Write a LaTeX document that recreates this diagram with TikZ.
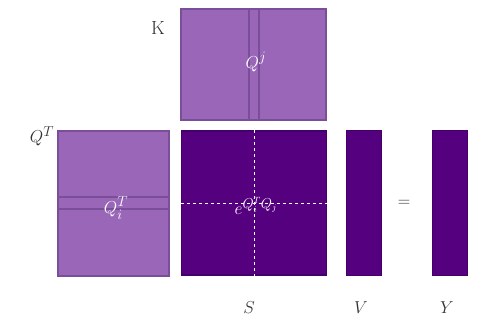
\documentclass[tikz,border=0pt]{standalone}
\usepackage{amsmath}
\definecolor{lightfill}{HTML}{9966B8}
\definecolor{lightline}{HTML}{7A4E99}
\definecolor{darkfill}{HTML}{55007F}
\definecolor{darkline}{HTML}{44006A}
\definecolor{txt}{HTML}{333333}
\tikzset{
  lbox/.style={draw=lightline, fill=lightfill, line width=2pt, inner sep=0pt},
  dbox/.style={draw=darkline, fill=darkfill, line width=1.5pt, inner sep=0pt},
  strip/.style={draw=lightline, line width=2pt},
  lbl/.style={text=txt, inner sep=0pt, font=\fontsize{19}{22}\selectfont},
  wlbl/.style={text=white, inner sep=0pt, font=\fontsize{19}{22}\selectfont},
  dash line/.style={draw=white, dashed, line width=0.8pt}
}
\begin{document}
\begin{tikzpicture}[x=1pt,y=-1pt]
\useasboundingbox (0,0) rectangle (502,327);
% K box
\node[lbox, minimum width=145pt, minimum height=111pt] (K) at (253.5,64.5) {};
\draw[strip] ([xshift=-5pt]K.north) -- ([xshift=-5pt]K.south);
\draw[strip] ([xshift=5pt]K.north) -- ([xshift=5pt]K.south);
\node[wlbl] (qj) at (256,62) {$Q^{j}$};
\node[lbl] (klbl) at (158,28) {K};
% Q^T box
\node[lbox, minimum width=111pt, minimum height=145pt] (QT) at (113.5,203) {};
\draw[strip] ([yshift=-6pt]QT.west) -- ([yshift=-6pt]QT.east);
\draw[strip] ([yshift=6pt]QT.west) -- ([yshift=6pt]QT.east);
\node[wlbl] (qi) at (116,208) {$Q_i^{T}$};
\node[lbl] (qtlbl) at (42,136) {$Q^{T}$};
% S box
\node[dbox, minimum width=145pt, minimum height=144pt] (S) at (254,203) {};
\draw[dash line] (S.north) -- (S.south);
\draw[dash line] (S.west) -- (S.east);
\node[wlbl] (exp) at (256,206) {$e^{Q_i^{T}Q_j}$};
% V and Y
\node[dbox, minimum width=35pt, minimum height=145pt] (V) at (364,203) {};
\node[dbox, minimum width=35pt, minimum height=145pt] (Y) at (450,203) {};
\node[lbl] (eq) at (404,203) {$=$};
% bottom labels
\node[lbl] (slbl) at (249,308) {$S$};
\node[lbl] (vlbl) at (361,308) {$V$};
\node[lbl] (ylbl) at (447,308) {$Y$};
\end{tikzpicture}
\end{document}
